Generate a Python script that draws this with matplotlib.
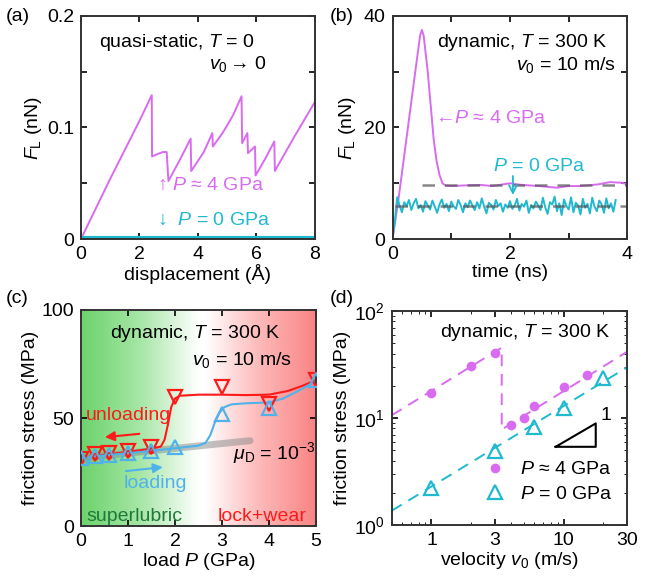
import matplotlib.pyplot as plt
import numpy as np
from matplotlib.colors import LinearSegmentedColormap

plt.rcParams['font.family'] = ['Liberation Sans', 'DejaVu Sans']
plt.rcParams['mathtext.fontset'] = 'custom'
plt.rcParams['mathtext.rm'] = 'Liberation Sans'
plt.rcParams['mathtext.it'] = 'Liberation Sans:italic'
plt.rcParams['font.size'] = 14
plt.rcParams['axes.linewidth'] = 1.4
plt.rcParams['axes.edgecolor'] = '#333333'

purple = '#d96bf0'
cyan = '#1fbad0'
blue = '#4fb3ea'
red = '#ff1a1a'

# (a) quasi-static
disp_a = [0, 0.5, 1.0, 1.5, 2.0, 2.42, 2.43, 2.6, 2.8, 2.93, 2.99, 3.4, 3.75, 3.77,
          4.2, 4.49, 4.51, 4.84, 5.2, 5.49, 5.51, 5.69, 5.71, 5.95, 5.97, 6.3, 6.61,
          6.63, 7.3, 8.0]
force_a = [0, 0.027, 0.054, 0.08, 0.106, 0.129, 0.074, 0.076, 0.078, 0.078, 0.052,
           0.072, 0.090, 0.061, 0.078, 0.095, 0.083, 0.095, 0.111, 0.128, 0.086,
           0.095, 0.077, 0.083, 0.057, 0.072, 0.0875, 0.061, 0.092, 0.123]
disp_a0 = [0, 8]
force_a0 = [0.001, 0.001]

# (b) dynamic time traces
t_hi = [0, 0.1, 0.2, 0.3, 0.4, 0.47, 0.5, 0.53, 0.6, 0.65, 0.7, 0.75, 0.8, 0.85,
        0.9, 1.0, 1.2, 1.5, 1.7, 2.0, 2.2, 2.5, 2.8, 3.0, 3.2, 3.5, 3.7, 3.9, 4.0]
f_hi = [0, 7, 15, 23, 31, 36.5, 37.5, 36.5, 30, 24, 18, 14, 11.5, 10, 9.6, 9.5,
        9.6, 9.7, 9.5, 10.0, 9.7, 9.5, 9.2, 9.5, 9.5, 9.8, 10.2, 10.1, 9.8]
t_lo = np.linspace(0, 3.8, 96)
f_lo = [0, 3.2, 7.5, 6.0, 4.8, 6.6, 5.9, 7.0, 5.2, 6.4, 7.2, 5.5, 6.1, 4.9, 6.8,
        6.0, 5.3, 6.9, 5.8, 4.7, 6.2, 7.1, 5.6, 6.3, 5.0, 6.7, 5.9, 5.4, 7.0, 6.1,
        4.8, 6.4, 5.7, 6.9, 6.0, 5.2, 6.6, 5.5, 7.3, 5.8, 4.6, 6.5, 6.1, 5.3, 7.0,
        5.9, 6.4, 4.9, 6.2, 5.6, 6.8, 5.4, 6.0, 7.2, 5.1, 6.3, 5.8, 6.9, 4.7, 6.1,
        5.5, 6.7, 6.0, 5.2, 7.4, 5.7, 4.5, 6.6, 6.2, 7.6, 5.0, 6.4, 4.3, 7.1, 5.9,
        5.3, 7.5, 4.8, 6.5, 6.0, 4.4, 7.2, 5.6, 6.3, 4.6, 7.4, 5.8, 5.0, 6.9, 6.2,
        4.7, 7.3, 5.5, 6.4, 4.9, 7.0]
avg_hi = 9.6
avg_lo = 6.0

# (c) friction stress vs load
load = [0, 0.3, 0.6, 1.0, 1.5, 2.0, 3.0, 4.0, 5.0]
stress_unload = [31, 33.2, 33.8, 34.8, 36.5, 59.5, 64.5, 56.5, 67.5]
stress_load = [31.5, 32.5, 33, 34, 34.5, 36.5, 52, 54.5, 67.5]
load_err = [0.3, 0.6, 1.0, 1.5]
stress_err = [32.2, 32.8, 33.8, 35.2]
fit_unload_p = [0, 0.5, 1, 1.5, 1.7, 1.78, 1.85, 1.92, 2.0, 2.1, 2.5, 3.0, 3.5,
                4.0, 4.4, 4.7, 5.0]
fit_unload_s = [31.5, 33, 34.3, 35.8, 36.8, 40, 47, 55, 59, 60.3, 60.8, 60.8,
                60.6, 60.8, 62.5, 64.8, 67.5]
fit_load_p = [0, 0.5, 1, 1.5, 2, 2.5, 2.65, 2.75, 2.85, 2.95, 3.05, 3.2, 3.5, 4.0,
              4.3, 4.6, 5.0]
fit_load_s = [31.5, 32.7, 33.7, 34.8, 36, 37.2, 38.5, 42, 48, 52.5, 55, 56.3,
              56.8, 57.2, 59, 62.3, 67]
mu_p = [0, 3.6]
mu_s = [31.5, 39.5]

# (d) friction stress vs velocity
v_hi = [1, 2, 3, 4, 5, 6, 10, 15]
s_hi = [17.3, 30.5, 40.5, 8.6, 10.0, 13.0, 19.5, 25.1]
v_lo = [1, 3, 6, 10, 20]
s_lo = [2.2, 4.9, 8.3, 12.3, 23.4]
fit_hi_v = [0.5, 3.4, 3.4, 30]
fit_hi_s = [10.6, 45.5, 7.8, 41.4]
fit_lo_v = [0.5, 30]
fit_lo_s = [1.36, 29.6]
slope_v = [8.7, 17.5, 17.5, 8.7]
slope_s = [5.38, 5.38, 8.9, 5.38]

fig = plt.figure(figsize=(6.6, 5.87), dpi=100)
axa = fig.add_axes([0.1227, 0.5928, 0.3545, 0.380])
axb = fig.add_axes([0.5947, 0.5928, 0.356, 0.380])
axc = fig.add_axes([0.1227, 0.1039, 0.356, 0.368])
axd = fig.add_axes([0.5935, 0.1056, 0.356, 0.3646])

for ax in (axa, axb, axc, axd):
    ax.tick_params(direction='in', top=True, right=True, length=4, width=1.2,
                   labelsize=14, pad=5)
    ax.tick_params(which='minor', direction='in', top=True, right=True, length=2.5)

# ---- (a)
axa.plot(disp_a, force_a, color=purple, lw=1.4)
axa.plot(disp_a0, force_a0, color=cyan, lw=3)
axa.set_xlim(0, 8)
axa.set_ylim(0, 0.2)
axa.set_xticks([0, 2, 4, 6, 8])
axa.set_yticks([0, 0.05, 0.1, 0.15, 0.2])
axa.set_yticklabels(['0', '', '0.1', '', '0.2'])
axa.set_xlabel('displacement (Å)', labelpad=1)
axa.set_ylabel(r'$F_\mathrm{L}$ (nN)', labelpad=2)
axa.text(0.6, 0.176, r'quasi-static, $T$ = 0', va='center')
axa.text(6.35, 0.157, r'$v_0$$\,$→ 0', ha='right', va='center')
axa.text(2.6, 0.048, r'↑ $P$ ≈ 4 GPa', color=purple, va='center')
axa.text(2.6, 0.017, r'↓  $P$ = 0 GPa', color=cyan, va='center')
fig.text(0.008, 0.972, '(a)', fontsize=14, va='center')

# ---- (b)
axb.plot(t_hi, f_hi, color=purple, lw=1.4)
axb.plot(t_lo, f_lo, color=cyan, lw=1.4)
axb.plot([0.5, 4], [avg_hi, avg_hi], color='#555555', lw=1.8, ls=(0, (5, 4)), alpha=0.7)
axb.plot([0.05, 4], [avg_lo, avg_lo], color='#555555', lw=1.8, ls=(0, (5, 4)), alpha=0.7)
axb.set_xlim(0, 4)
axb.set_ylim(0, 40)
axb.set_xticks([0, 1, 2, 3, 4])
axb.set_xticklabels(['0', '', '2', '', '4'])
axb.set_yticks([0, 10, 20, 30, 40])
axb.set_yticklabels(['0', '', '20', '', '40'])
axb.set_xlabel('time (ns)', labelpad=1)
axb.set_ylabel(r'$F_\mathrm{L}$ (nN)', labelpad=4)
axb.text(0.75, 35.2, r'dynamic, $T$ = 300 K', va='center')
axb.text(3.81, 31.2, r'$v_0$ = 10 m/s', ha='right', va='center')
axb.text(0.72, 21.7, r'←$P$ ≈ 4 GPa', color=purple, va='center')
axb.text(1.71, 13.0, r'$P$ = 0 GPa', color=cyan, va='center')
axb.annotate('', xy=(2.05, 7.4), xytext=(2.05, 11.8),
             arrowprops=dict(arrowstyle='->', color=cyan, lw=1.3))
fig.text(0.5, 0.972, '(b)', fontsize=14, va='center')

# ---- (c)
cmap = LinearSegmentedColormap.from_list(
    'gw', [(0, '#6cd36c'), (0.25, '#a6e6a6'), (0.5, '#ffffff'),
           (0.53, '#ffffff'), (0.75, '#fdbcbc'), (1, '#f98484')])
grad = np.linspace(0, 1, 256).reshape(1, -1)
axc.imshow(grad, cmap=cmap, aspect='auto', extent=[0, 5, 0, 100], zorder=0)
axc.plot(mu_p, mu_s, color='#888888', lw=5, alpha=0.5, solid_capstyle='round', zorder=1)
axc.plot(fit_unload_p, fit_unload_s, color=red, lw=1.5, zorder=2)
axc.plot(fit_load_p, fit_load_s, color=blue, lw=1.5, zorder=2)
axc.plot(load, stress_unload, 'v', ms=10, mfc='none', mec=red, mew=1.6, zorder=3)
axc.plot(load_err, stress_err, 'o', ms=4, mfc='none', mec=red, mew=1.2, zorder=3)
axc.plot(load, stress_load, '^', ms=10, mfc='none', mec=blue, mew=1.6, zorder=3)
axc.set_xlim(0, 5)
axc.set_ylim(0, 100)
axc.set_xticks([0, 1, 2, 3, 4, 5])
axc.set_yticks([0, 50, 100])
axc.set_xlabel(r'load $P$ (GPa)', labelpad=1)
axc.set_ylabel('friction stress (MPa)', labelpad=2)
axc.text(0.62, 89.2, r'dynamic, $T$ = 300 K', va='center')
axc.text(4.5, 76.9, r'$v_0$ = 10 m/s', ha='right', va='center')
axc.text(0.11, 51, 'unloading', color=red, va='center')
axc.annotate('', xy=(0.45, 41), xytext=(1.3, 42.8),
             arrowprops=dict(arrowstyle='-|>', color=red, lw=1.5))
axc.text(0.9, 19.8, 'loading', color=blue, va='center')
axc.annotate('', xy=(1.8, 27.4), xytext=(0.9, 25.3),
             arrowprops=dict(arrowstyle='-|>', color=blue, lw=1.5))
axc.text(3.24, 33.6, r'$\mu_\mathrm{D}$ = 10$^{-3}$', va='center')
axc.text(0.12, 4.3, 'superlubric', color='#1f7a3a', va='center')
axc.text(4.8, 4.3, 'lock+wear', color=red, ha='right', va='center')
fig.text(0.008, 0.492, '(c)', fontsize=14, va='center')

# ---- (d)
axd.plot(fit_hi_v, fit_hi_s, color=purple, lw=1.4, ls=(0, (6, 4)))
axd.plot(fit_lo_v, fit_lo_s, color=cyan, lw=1.4, ls=(0, (6, 4)))
axd.plot(v_hi, s_hi, 'o', ms=7, color=purple, mec='none', label=r'$P$ ≈ 4 GPa')
axd.plot(v_lo, s_lo, '^', ms=10, mfc='none', mec=cyan, mew=1.6, label=r'$P$ = 0 GPa')
axd.plot(slope_v, slope_s, color='black', lw=1.5)
axd.text(18.9, 10.5, '1', va='center')
axd.set_xscale('log')
axd.set_yscale('log')
axd.set_xlim(0.5, 30)
axd.set_ylim(1, 100)
axd.set_xticks([1, 3, 10, 30])
axd.set_xticklabels(['1', '3', '10', '30'])
axd.xaxis.set_minor_formatter(plt.NullFormatter())
axd.set_xlabel(r'velocity $v_0$ (m/s)', labelpad=1)
axd.set_ylabel('friction stress (MPa)', labelpad=2)
axd.text(22.7, 62.8, r'dynamic, $T$ = 300 K', ha='right', va='center')
axd.legend(loc='lower right', frameon=False, handletextpad=0.3, borderpad=0.2,
           labelspacing=0.35, fontsize=14, bbox_to_anchor=(1.0, 0.04))
fig.text(0.5, 0.492, '(d)', fontsize=14, va='center')

plt.savefig('out.png', dpi=100)
plt.close()
